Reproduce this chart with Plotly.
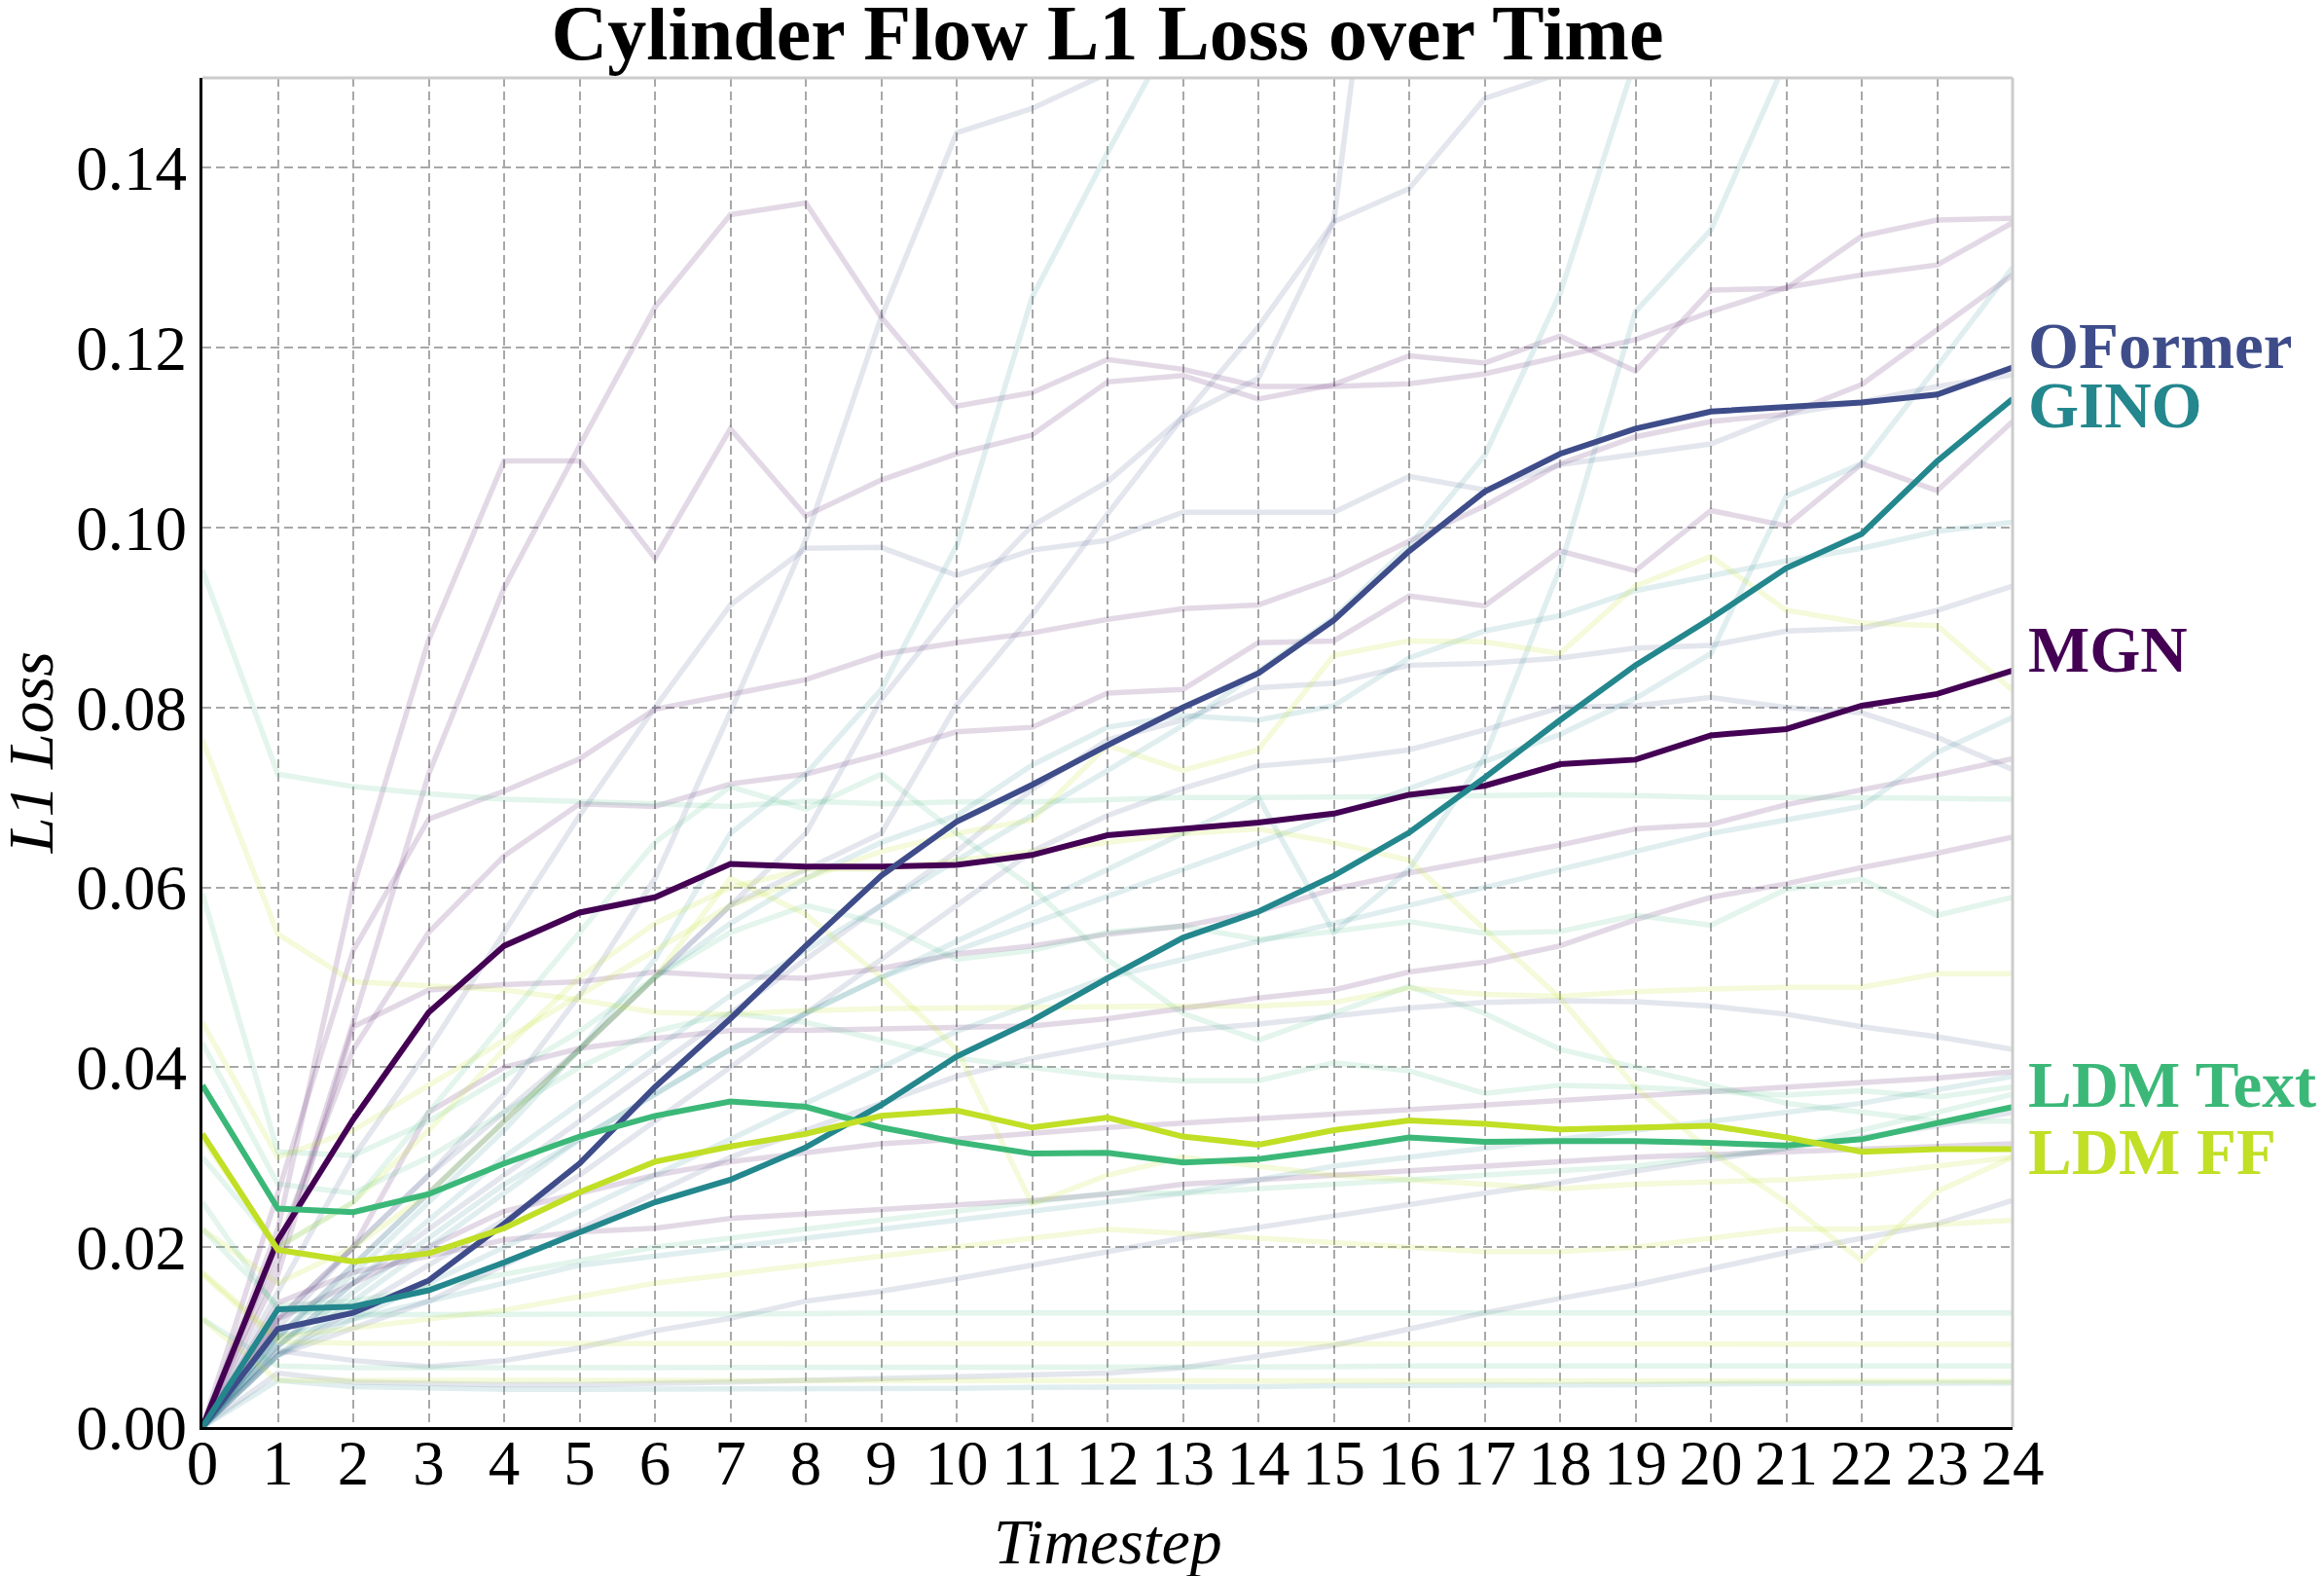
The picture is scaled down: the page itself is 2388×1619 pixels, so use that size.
import plotly.graph_objects as go

timesteps = list(range(25))

# ---- main series (mean L1 loss per model) ----
mgn = [0, 0.0208, 0.0342, 0.0461, 0.0535, 0.0572, 0.0589, 0.0626, 0.0623, 0.0623, 0.0625, 0.0636, 0.0658,
       0.0665, 0.0672, 0.0682, 0.0703, 0.0713, 0.0737, 0.0742, 0.0769, 0.0776, 0.0802, 0.0815, 0.0841]
oformer = [0, 0.0109, 0.0127, 0.0163, 0.0226, 0.0293, 0.0378, 0.0454, 0.0535, 0.0613, 0.0673, 0.0714, 0.0758,
           0.0800, 0.0838, 0.0897, 0.0974, 0.1040, 0.1082, 0.1110, 0.1129, 0.1134, 0.1139, 0.1148, 0.1178]
gino = [0, 0.0131, 0.0134, 0.0152, 0.0183, 0.0217, 0.0250, 0.0275, 0.0311, 0.0358, 0.0412, 0.0452, 0.0499,
        0.0544, 0.0573, 0.0613, 0.0661, 0.0722, 0.0786, 0.0847, 0.0899, 0.0955, 0.0993, 0.1074, 0.1143]
ldm_text = [0.0380, 0.0243, 0.0239, 0.0259, 0.0293, 0.0323, 0.0346, 0.0362, 0.0356, 0.0333, 0.0317, 0.0304, 0.0305,
            0.0294, 0.0298, 0.0309, 0.0322, 0.0317, 0.0318, 0.0318, 0.0316, 0.0313, 0.0320, 0.0338, 0.0356]
ldm_ff = [0.0326, 0.0197, 0.0184, 0.0193, 0.0221, 0.0261, 0.0295, 0.0312, 0.0326, 0.0346, 0.0352, 0.0333, 0.0344,
          0.0323, 0.0314, 0.0330, 0.0341, 0.0337, 0.0331, 0.0333, 0.0335, 0.0322, 0.0306, 0.0309, 0.0309]

# ---- faint per-sample series ----
mgn_samples = [
    [0, 0.022, 0.060, 0.0875, 0.1074, 0.1074, 0.0966, 0.1110, 0.1013, 0.1053, 0.1082, 0.1103, 0.1162, 0.1169,
     0.1143, 0.1159, 0.1191, 0.1183, 0.1213, 0.1174, 0.1264, 0.1266, 0.1324, 0.1342, 0.1344],
    [0, 0.0185, 0.045, 0.0726, 0.0933, 0.1091, 0.1245, 0.1348, 0.1361, 0.1234, 0.1135, 0.1150, 0.1187, 0.1176,
     0.1157, 0.1157, 0.1160, 0.1171, 0.1190, 0.1209, 0.1240, 0.1267, 0.1281, 0.1292, 0.1339],
    [0, 0.026, 0.053, 0.0676, 0.0707, 0.0743, 0.0798, 0.0815, 0.0831, 0.0859, 0.0872, 0.0883, 0.0898, 0.0910,
     0.0914, 0.0944, 0.0985, 0.1024, 0.1071, 0.1101, 0.1118, 0.1126, 0.1159, 0.1220, 0.1281],
    [0, 0.020, 0.042, 0.055, 0.0635, 0.0693, 0.0690, 0.0715, 0.0726, 0.0748, 0.0773, 0.0778, 0.0816, 0.0820,
     0.0872, 0.0874, 0.0924, 0.0913, 0.0974, 0.0952, 0.1019, 0.1002, 0.1071, 0.1041, 0.1118],
    [0, 0.017, 0.0445, 0.0486, 0.0492, 0.0495, 0.0506, 0.0501, 0.0499, 0.0510, 0.0526, 0.0535, 0.0548, 0.0557,
     0.0573, 0.0598, 0.0616, 0.0631, 0.0647, 0.0665, 0.0670, 0.0692, 0.0708, 0.0725, 0.0743],
    [0, 0.012, 0.020, 0.035, 0.040, 0.0421, 0.0432, 0.0441, 0.0441, 0.0443, 0.0444, 0.0446, 0.0454, 0.0465,
     0.0477, 0.0486, 0.0506, 0.0517, 0.0535, 0.0564, 0.0589, 0.0604, 0.0622, 0.0638, 0.0656],
    [0, 0.0138, 0.0172, 0.0190, 0.0208, 0.0217, 0.0221, 0.0232, 0.0237, 0.0241, 0.0246, 0.0252, 0.0259, 0.0270,
     0.0275, 0.0280, 0.0286, 0.0290, 0.0295, 0.0300, 0.0303, 0.0306, 0.0309, 0.0312, 0.0315],
    [0, 0.012, 0.016, 0.020, 0.024, 0.026, 0.028, 0.0295, 0.0305, 0.0315, 0.0320, 0.0327, 0.0333, 0.0338,
     0.0343, 0.0348, 0.0353, 0.0358, 0.0363, 0.0368, 0.0373, 0.0378, 0.0383, 0.0388, 0.0395],
]
oformer_samples = [
    [0, 0.012, 0.020, 0.028, 0.037, 0.048, 0.061, 0.0795, 0.0987, 0.1234, 0.1439, 0.1466, 0.1505, 0.1560],
    [0, 0.015, 0.030, 0.042, 0.055, 0.068, 0.080, 0.0914, 0.0977, 0.0978, 0.0947, 0.0975, 0.0986, 0.1017,
     0.1017, 0.1017, 0.1057, 0.1042, 0.1070, 0.1081, 0.1093, 0.1126, 0.1140, 0.1157, 0.1170],
    [0, 0.011, 0.020, 0.028, 0.035, 0.042, 0.050, 0.058, 0.066, 0.0809, 0.0914, 0.1002, 0.1051, 0.1123,
     0.1166, 0.1340, 0.2000],
    [0, 0.010, 0.018, 0.026, 0.034, 0.042, 0.050, 0.058, 0.062, 0.066, 0.0803, 0.0903, 0.1015, 0.1123,
     0.1223, 0.1340, 0.1377, 0.1477, 0.1505, 0.1550],
    [0, 0.009, 0.016, 0.022, 0.028, 0.034, 0.040, 0.046, 0.052, 0.058, 0.064, 0.0709, 0.0764, 0.0786,
     0.0822, 0.0827, 0.0847, 0.0849, 0.0855, 0.0866, 0.0869, 0.0885, 0.0888, 0.0908, 0.0935],
    [0, 0.008, 0.013, 0.018, 0.023, 0.028, 0.034, 0.040, 0.046, 0.052, 0.058, 0.064, 0.068, 0.071, 0.0735,
     0.0742, 0.0753, 0.0775, 0.0800, 0.0802, 0.0811, 0.0800, 0.0794, 0.0767, 0.0731],
    [0, 0.008, 0.011, 0.014, 0.018, 0.022, 0.026, 0.030, 0.033, 0.036, 0.039, 0.041, 0.0425, 0.0441, 0.0448,
     0.0457, 0.0466, 0.0472, 0.0474, 0.0473, 0.0468, 0.0459, 0.0445, 0.0434, 0.0420],
    [0, 0.0085, 0.0074, 0.0067, 0.0074, 0.0088, 0.0107, 0.0121, 0.0140, 0.0151, 0.0165, 0.0180, 0.0195,
     0.0210, 0.0222, 0.0235, 0.0248, 0.0260, 0.0272, 0.0285, 0.0298, 0.0310, 0.0322, 0.0335, 0.0350],
    [0, 0.0060, 0.0050, 0.0048, 0.0047, 0.0047, 0.0048, 0.0050, 0.0052, 0.0054, 0.0056, 0.0058, 0.0060,
     0.0066, 0.0078, 0.0091, 0.0109, 0.0127, 0.0143, 0.0158, 0.0176, 0.0194, 0.0210, 0.0226, 0.0252],
]
gino_samples = [
    [0, 0.010, 0.017, 0.025, 0.033, 0.042, 0.052, 0.066, 0.0726, 0.082, 0.098, 0.1256, 0.1417, 0.1570],
    [0, 0.008, 0.014, 0.020, 0.026, 0.032, 0.037, 0.042, 0.046, 0.050, 0.054, 0.058, 0.062, 0.066, 0.070,
     0.055, 0.062, 0.0745, 0.0955, 0.1240, 0.1331, 0.1520],
    [0, 0.009, 0.016, 0.023, 0.030, 0.036, 0.042, 0.048, 0.053, 0.058, 0.063, 0.068, 0.073, 0.078, 0.084,
     0.090, 0.098, 0.108, 0.126, 0.152],
    [0, 0.009, 0.015, 0.021, 0.027, 0.032, 0.037, 0.042, 0.046, 0.050, 0.053, 0.056, 0.059, 0.062, 0.065,
     0.068, 0.071, 0.074, 0.077, 0.081, 0.086, 0.1035, 0.1071, 0.1179, 0.1289],
    [0, 0.010, 0.018, 0.026, 0.034, 0.042, 0.050, 0.056, 0.061, 0.065, 0.068, 0.0736, 0.0778, 0.0791,
     0.0786, 0.0802, 0.0855, 0.0885, 0.0902, 0.0930, 0.0946, 0.0963, 0.0977, 0.0996, 0.1006],
    [0, 0.008, 0.012, 0.016, 0.020, 0.024, 0.028, 0.032, 0.036, 0.040, 0.044, 0.047, 0.050, 0.052, 0.054,
     0.056, 0.058, 0.060, 0.062, 0.064, 0.066, 0.0675, 0.069, 0.075, 0.0789],
    [0, 0.0052, 0.0045, 0.0043, 0.0042, 0.0042, 0.0042, 0.0042, 0.0042, 0.0043, 0.0043, 0.0044, 0.0044,
     0.0045, 0.0045, 0.0046, 0.0046, 0.0047, 0.0047, 0.0047, 0.0048, 0.0048, 0.0048, 0.0049, 0.0049],
    [0, 0.010, 0.012, 0.014, 0.016, 0.018, 0.019, 0.020, 0.021, 0.022, 0.023, 0.024, 0.025, 0.026, 0.0275,
     0.029, 0.030, 0.031, 0.032, 0.033, 0.034, 0.035, 0.036, 0.0375, 0.039],
]
ldm_text_samples = [
    [0.0953, 0.0726, 0.0712, 0.0704, 0.0698, 0.0696, 0.0693, 0.0690, 0.0696, 0.0693, 0.0695, 0.0695, 0.0697,
     0.0700, 0.0700, 0.0700, 0.0701, 0.0702, 0.0703, 0.0702, 0.0700, 0.0700, 0.0700, 0.0699, 0.0698],
    [0.0593, 0.0306, 0.0302, 0.034, 0.039, 0.044, 0.050, 0.055, 0.058, 0.056, 0.052, 0.053, 0.055, 0.0557,
     0.0542, 0.0551, 0.0562, 0.0549, 0.0551, 0.0569, 0.0558, 0.0598, 0.0609, 0.0569, 0.0589],
    [0.0427, 0.027, 0.026, 0.030, 0.035, 0.040, 0.044, 0.046, 0.045, 0.043, 0.041, 0.040, 0.039, 0.0385,
     0.0385, 0.0405, 0.0396, 0.0371, 0.0380, 0.0378, 0.0374, 0.0369, 0.0374, 0.0367, 0.0378],
    [0.025, 0.013, 0.0125, 0.0125, 0.0125, 0.0126, 0.0126, 0.0126, 0.0126, 0.0127, 0.0127, 0.0127, 0.0127,
     0.0127, 0.0127, 0.0127, 0.0127, 0.0127, 0.0127, 0.0127, 0.0127, 0.0127, 0.0127, 0.0127, 0.0127],
    [0.012, 0.0068, 0.0066, 0.0066, 0.0066, 0.0066, 0.0066, 0.0066, 0.0066, 0.0067, 0.0067, 0.0067, 0.0067,
     0.0067, 0.0067, 0.0067, 0.0068, 0.0068, 0.0068, 0.0068, 0.0068, 0.0068, 0.0068, 0.0068, 0.0068],
    [0.030, 0.020, 0.025, 0.035, 0.045, 0.055, 0.065, 0.0712, 0.0687, 0.0726, 0.066, 0.060, 0.052, 0.046,
     0.043, 0.046, 0.049, 0.046, 0.042, 0.040, 0.038, 0.036, 0.035, 0.034, 0.034],
    [0.022, 0.0135, 0.014, 0.0155, 0.017, 0.0185, 0.020, 0.021, 0.022, 0.023, 0.024, 0.025, 0.026, 0.026,
     0.0265, 0.027, 0.0275, 0.028, 0.0285, 0.029, 0.030, 0.031, 0.033, 0.035, 0.037],
]
ldm_ff_samples = [
    [0.0764, 0.0548, 0.0495, 0.0491, 0.0486, 0.0475, 0.0461, 0.0459, 0.0463, 0.0465, 0.0466, 0.0467, 0.0468,
     0.0468, 0.0468, 0.0472, 0.0488, 0.0481, 0.0479, 0.0484, 0.0487, 0.0489, 0.0489, 0.0504, 0.0504],
    [0.045, 0.030, 0.033, 0.038, 0.043, 0.048, 0.053, 0.058, 0.061, 0.064, 0.066, 0.0675, 0.0758, 0.0730,
     0.0753, 0.0858, 0.0874, 0.0873, 0.0860, 0.0935, 0.0968, 0.0908, 0.0894, 0.0891, 0.0819],
    [0.032, 0.020, 0.025, 0.033, 0.042, 0.050, 0.056, 0.060, 0.062, 0.062, 0.063, 0.064, 0.065, 0.066,
     0.0665, 0.065, 0.063, 0.0553, 0.0477, 0.0378, 0.0306, 0.025, 0.0185, 0.0262, 0.030],
    [0.017, 0.0095, 0.0093, 0.0093, 0.0093, 0.0093, 0.0093, 0.0093, 0.0093, 0.0093, 0.0093, 0.0093, 0.0093,
     0.0093, 0.0093, 0.0093, 0.0093, 0.0093, 0.0092, 0.0092, 0.0092, 0.0092, 0.0092, 0.0092, 0.0092],
    [0.012, 0.0052, 0.0052, 0.0052, 0.0052, 0.0052, 0.0052, 0.0052, 0.0052, 0.0052, 0.0052, 0.0052, 0.0052,
     0.0052, 0.0052, 0.0052, 0.0052, 0.0051, 0.0051, 0.0051, 0.0051, 0.0051, 0.0051, 0.0051, 0.0051],
    [0.022, 0.016, 0.020, 0.026, 0.034, 0.042, 0.050, 0.061, 0.057, 0.050, 0.042, 0.0248, 0.028, 0.030,
     0.029, 0.028, 0.0275, 0.027, 0.0265, 0.027, 0.0272, 0.0275, 0.028, 0.029, 0.030],
    [0.0172, 0.010, 0.011, 0.012, 0.013, 0.0145, 0.016, 0.017, 0.018, 0.019, 0.020, 0.021, 0.022, 0.0215,
     0.021, 0.0205, 0.020, 0.0195, 0.0195, 0.020, 0.021, 0.022, 0.022, 0.0225, 0.023],
]

model_names = ["MGN", "OFormer", "GINO", "LDM Text", "LDM FF"]
model_colors = ["#440154", "#3e4c8a", "#23878d", "#3bb878", "#c0df25"]
faint_rgba = ["rgba(68,1,84,0.15)", "rgba(62,76,138,0.14)", "rgba(35,135,141,0.14)",
              "rgba(59,184,120,0.14)", "rgba(192,223,37,0.17)"]
label_y = [0.0865, 0.1202, 0.1136, 0.0381, 0.0306]
y_ticks = [0, 0.02, 0.04, 0.06, 0.08, 0.10, 0.12, 0.14]

main_series = [mgn, oformer, gino, ldm_text, ldm_ff]
sample_sets = [mgn_samples, oformer_samples, gino_samples, ldm_text_samples, ldm_ff_samples]

SERIF = "Liberation Serif, Times New Roman, serif"
W, H = 2380, 1611  # page body has an 8px margin

fig = go.Figure()
for samples, col in zip(sample_sets, faint_rgba):
    for s in samples:
        fig.add_trace(go.Scatter(x=timesteps[:len(s)], y=s, mode="lines",
                                 line=dict(color=col, width=5.5), hoverinfo="skip",
                                 showlegend=False))
for name, ys, col in zip(model_names, main_series, model_colors):
    fig.add_trace(go.Scatter(x=timesteps, y=ys, mode="lines", name=name,
                             line=dict(color=col, width=6), showlegend=False))

for name, ly, col in zip(model_names, label_y, model_colors):
    fig.add_annotation(x=1, xref="paper", y=ly, yref="y", xanchor="left", yanchor="middle",
                       xshift=14, text="<b>%s</b>" % name, showarrow=False,
                       font=dict(family=SERIF, size=67, color=col))

fig.add_annotation(x=-0.095, xref="paper", y=0.5, yref="paper", text="<i>L1 Loss</i>",
                   textangle=-90, showarrow=False, xanchor="center", yanchor="middle",
                   font=dict(family=SERIF, size=66, color="black"))
fig.add_annotation(x=0.5, xref="paper", y=-0.085, yref="paper", text="<i>Timestep</i>",
                   showarrow=False, xanchor="center", yanchor="middle",
                   font=dict(family=SERIF, size=66, color="black"))

# top and right spines in light gray
fig.add_shape(type="line", xref="paper", yref="paper", x0=0, x1=1, y0=1, y1=1,
              line=dict(color="#cccccc", width=3), layer="above")
fig.add_shape(type="line", xref="paper", yref="paper", x0=1, x1=1, y0=0, y1=1,
              line=dict(color="#cccccc", width=3), layer="above")

fig.update_layout(
    width=W, height=H,
    margin=dict(l=200, r=320, t=72, b=153),
    paper_bgcolor="white", plot_bgcolor="white",
    title=dict(text="<b>Cylinder Flow L1 Loss over Time</b>", x=0.5, xref="paper",
               y=1 - 25 / H, yanchor="middle",
               font=dict(family=SERIF, size=80, color="black")),
    font=dict(family=SERIF, color="black"),
    xaxis=dict(range=[0, 24], tickmode="array", tickvals=timesteps,
               ticktext=[str(t) for t in timesteps],
               showgrid=True, gridcolor="#a8a8a8", griddash="9px,5px", gridwidth=1.5,
               showline=True, linecolor="black", linewidth=3,
               ticks="", ticklabelstandoff=-22,
               tickfont=dict(family=SERIF, size=65, color="black"), zeroline=False),
    yaxis=dict(range=[0, 0.15], tickmode="array", tickvals=y_ticks,
               ticktext=["%.2f" % v for v in y_ticks],
               showgrid=True, gridcolor="#a8a8a8", griddash="9px,5px", gridwidth=1.5,
               showline=True, linecolor="black", linewidth=3,
               ticks="",
               tickfont=dict(family=SERIF, size=65, color="black"), zeroline=False),
)

fig.write_html("out.html")
